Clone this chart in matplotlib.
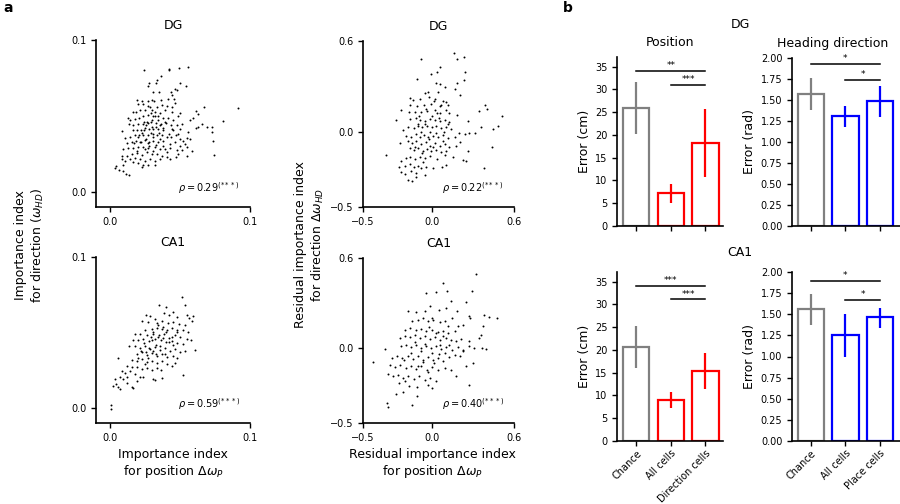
import numpy as np
import matplotlib
matplotlib.use('Agg')
import matplotlib.pyplot as plt

plt.rcParams['font.family'] = 'DejaVu Sans'
plt.rcParams['mathtext.fontset'] = 'dejavusans'

# importance index per cell (position, direction), units of 1e-3
dg_importance = [
    (24.5, 80), (42, 81), (42.4, 80), (49.5, 81.5), (56, 82), (36.4, 76), (33.3, 73.5), (33, 71.7), (28, 71.7), (27, 70),
    (50, 72), (54, 69.5), (46.4, 68), (47.6, 67), (31, 66), (35, 65.8), (43.6, 65.6), (44, 64), (41.2, 61.4), (45.7, 61),
    (46.4, 58.5), (36.4, 60.5), (19, 60.5), (22.6, 60), (27, 60), (29.8, 60.7), (31.7, 59.6), (20.2, 57.6), (23.8, 57.6), (27.4, 56.7),
    (28.8, 55.8), (33.3, 55.8), (37, 57), (40.5, 56.3), (44.5, 55.8), (39.3, 53.6), (16.2, 52.8), (18.6, 52.5), (21.4, 53.6), (25, 53.6),
    (29.8, 53.6), (32, 52.5), (35.7, 51.9), (44, 52.5), (48.8, 49.7), (50, 51.9), (61.4, 53), (62.6, 51), (67.4, 55.6), (91.2, 55),
    (57, 47), (59.5, 48.8), (81, 46.6), (13, 48.8), (14.3, 47), (18, 48), (21, 48.8), (23.8, 49.7), (27.4, 50.3), (31, 49.9),
    (34.5, 49.7), (38, 48.8), (41.7, 48.8), (45.2, 47.5), (13.8, 44.8), (16.7, 43.7), (20.2, 44.8), (23.3, 44.4), (26.2, 46), (29.3, 46),
    (32.9, 45.3), (36.4, 44.8), (39.3, 46), (43.3, 44.2), (47.6, 43.7), (51.2, 44.4), (61.4, 42.2), (63, 42.6), (65.5, 44.8), (69.5, 42.6),
    (72.6, 43), (8.8, 40), (16.7, 40.8), (19, 40.4), (21.9, 40.8), (24.5, 40.4), (28, 41.5), (31, 41.5), (34.5, 41.5), (38, 40.8),
    (44, 41.3), (50, 41.5), (56, 39.7), (10.7, 35.5), (14.3, 36.4), (17.9, 37.1), (21, 37.7), (23.8, 37.1), (27, 37.7), (30.5, 38.2),
    (33.3, 37.1), (37, 37.7), (40.5, 36.4), (43.6, 36), (47.1, 37.1), (50, 34.9), (52.4, 33.8), (54.8, 35.5), (57.1, 34.9), (73.8, 33.8),
    (72.6, 39.3), (11.9, 32), (15.5, 32.7), (18.6, 33.8), (21.4, 32.7), (25, 34.2), (28, 32.7), (31, 33.8), (34.5, 32.7), (37.6, 33.8),
    (42.9, 31.6), (46.4, 32.7), (50, 30.5), (54.8, 29.4), (58.3, 27.2), (9.5, 28.3), (13, 29), (16.7, 29), (20.2, 29.4), (23.8, 29.8),
    (27.4, 29), (32.1, 29.4), (35.7, 28.3), (39.3, 28.3), (42.9, 29), (47.6, 27.8), (51.2, 27.6), (54.8, 23.8), (74.3, 24.5), (8.3, 23.8),
    (11.9, 23.8), (15.5, 24.9), (19, 25.4), (22.6, 24.5), (26.2, 26), (29.8, 24.9), (33.3, 24.9), (36.9, 23.8), (40.5, 22.7), (42.9, 21.6),
    (8.3, 21.6), (10.7, 20.5), (14.3, 21.6), (17.9, 22.3), (21.4, 21.6), (25, 20.5), (28.6, 21.6), (32.1, 20.1), (9.5, 17.9), (16.7, 19.4),
    (20.2, 19), (23.8, 17.9), (27.4, 17.7), (32.1, 17.9), (4.3, 17.2), (3.6, 15.7), (6.4, 14.3), (9.5, 13.9), (11.2, 11.7), (13.6, 11),
    (22.6, 16.6), (35.7, 21.6), (47.1, 22.7), (48.8, 24.9), (40.5, 26), (53.6, 31.6), (45.2, 40.4), (48.8, 38.2),
    (27, 45), (30, 47), (33, 43), (25, 42), (29, 39), (35, 39), (31, 36), (26, 35), (22, 33), (33, 31),
    (28, 30), (36, 44), (24, 46), (38, 42), (32, 50), (29, 52), (26, 44), (34, 47), (23, 39), (30, 43),
    (20, 36), (36, 35), (40, 45), (42, 38), (27, 32), (25, 28), (31, 27), (38, 30), (19, 27), (17, 32),
]

ca1_importance = [
    (51.2, 73.6), (53.6, 68.4), (35.2, 68), (40, 66.9), (44.8, 63.6), (38.6, 62.9), (25.7, 61.3), (28.6, 60.7), (32.1, 59.1), (42.1, 61.3),
    (47.6, 60.2), (54.8, 61.3), (56.7, 59.6), (59, 60.7), (58.3, 57.6), (22.6, 57.3), (27.4, 56.9), (33.3, 56.2), (36.9, 57.6), (41.7, 56.2),
    (45.2, 56.9), (49.5, 55.8), (53.6, 54.7), (33.3, 53.1), (37.6, 53.6), (40.9, 51.8), (44, 53.1), (47.6, 51.3), (52.4, 51.8), (56, 50.2),
    (29.8, 52.4), (25, 51.3), (17.9, 49.1), (21.4, 48.7), (26.2, 48), (30.5, 49.1), (34.5, 47.3), (38.6, 48.7), (42.4, 46.4), (46.4, 48),
    (50, 47.3), (54.8, 45.8), (57.9, 45.1), (16.2, 45.1), (20.2, 44.7), (23.8, 45.8), (28.1, 44.2), (32.1, 45.8), (36.2, 44.7), (40, 43.6),
    (44, 44.2), (48.1, 42.9), (52.4, 42.4), (60.7, 38.4), (13.8, 40.7), (17.9, 41.3), (21.4, 39.8), (25, 40.7), (28.6, 39.1), (32.1, 40.2),
    (35.7, 38.4), (39.3, 39.8), (42.9, 38), (46.4, 39.1), (50, 36.9), (53.6, 37.6), (19, 35.8), (22.6, 36.9), (26.2, 35.3), (29.8, 36.2),
    (33.3, 34.7), (36.9, 35.8), (41, 34), (44.8, 34.7), (48.1, 33.1), (6, 32.9), (15.5, 31.8), (19, 30.9), (22.6, 32.4), (26.2, 30.2),
    (29.8, 31.3), (33.3, 29.6), (36.9, 30.9), (40.5, 29.1), (44, 28), (46.4, 29.6), (11.9, 28), (15.5, 26.9), (19, 27.3), (22.6, 25.8),
    (26.2, 26.4), (29.8, 25.1), (33.3, 26.4), (36.2, 25.1), (8.3, 24.7), (10.7, 22.9), (14.3, 24.2), (17.9, 22.4), (21.4, 20.7), (23.8, 20.2),
    (31, 19.1), (32.1, 18.4), (36.9, 19.8), (52.4, 22), (3.6, 19.1), (7.1, 20.2), (9.5, 19.1), (11.9, 20.2), (4.3, 15.8), (1.9, 14.7),
    (6, 14), (7.1, 12.4), (11.9, 16.2), (15.5, 14), (16.2, 13.1), (19, 17.6), (0.7, 1.8), (0.7, -0.9),
    (30, 45), (33, 42), (35, 48), (28, 40), (38, 46), (31, 38), (36, 41), (26, 37), (40, 50), (42, 44),
    (24, 43), (33, 36), (29, 47), (37, 52), (44, 47), (27, 33), (22, 38), (39, 36), (45, 42), (34, 55),
    (31, 50), (48, 50), (20, 33), (25, 29),
]

# residual importance index (position, direction), units of 1e-2
dg_residual = [
    (16.2, 51.8), (18.8, 47.8), (23.9, 49.1), (-7.5, 47.8), (5.8, 42.9), (3.9, 39.6), (-0.7, 38.4), (24.4, 39.6), (-10.6, 34.7), (2.9, 32.4),
    (5.8, 31.8), (18.4, 32.4), (23.4, 34), (16.7, 28.4), (9.9, 29.6), (-2.4, 26.2), (-5.1, 25.8), (4.6, 26.2), (20.8, 24.4), (-15.5, 22.2),
    (-13.5, 20.7), (-8.7, 21.8), (-1.9, 22.9), (2.2, 21.8), (8.2, 20), (10.6, 19.6), (11.8, 17.3), (6.5, 17.3), (-0.2, 18), (-5.6, 17.3),
    (-10.6, 16.7), (-15.5, 17.3), (38.9, 17.6), (40.3, 15.1), (34.8, 13.3), (51, 10.4), (-22.5, 14.4), (-25.6, 7.8), (-16.4, 12.9), (-12.3, 12.9),
    (-7.5, 12.9), (-3.4, 13.6), (2.2, 14.4), (5.8, 12.2), (10.1, 14), (13, 12.2), (18.4, 10.7), (-15.9, 8.4), (-11.6, 9.1), (-8.7, 7.8),
    (-5.1, 7.3), (-1.4, 8.4), (2.2, 7.8), (5.8, 6.9), (9.4, 7.8), (13, 6.2), (26.3, 7.3), (-20.5, 1.1), (-17.1, 2.9), (-13, 2.4),
    (-9.9, 4), (-6.8, 2.9), (-3.4, 4), (0.5, 2.9), (3.4, 4), (7, 2.4), (10.6, 3.3), (14.3, 1.8), (19.8, -1.1), (24.6, -1.6),
    (27.5, -1.1), (31.9, -1.1), (36, 3.3), (44.4, 1.8), (48.1, 4), (-23.2, -7.8), (-18.4, -2.7), (-14.7, -3.8), (-11.6, -1.6), (-8.7, -3.3),
    (-5.8, -2), (-2.7, -3.8), (1, -2.7), (4.6, -3.8), (8.2, -2), (11.8, -4.2), (16.7, -3.3), (-17.1, -6.4), (-14, -7.8), (-11.1, -6.4),
    (-7.5, -8.2), (-4.3, -7.1), (-1.4, -9.3), (2.2, -7.8), (5.8, -9.3), (9.4, -8.2), (13, -10), (17.4, -9.3), (20.8, -7.1), (43.9, -10),
    (-32.9, -15.3), (-15.9, -10.9), (-13, -12.2), (-9.9, -10.9), (-6.3, -12.7), (-3.4, -11.6), (-0.2, -13.1), (3.4, -12.2), (7, -13.8), (10.6, -12.7),
    (15.5, -16.7), (26.3, -13.1), (-22, -19.3), (-18.4, -17.6), (-15.5, -16.7), (-12.3, -18.2), (-8.7, -16.7), (-5.1, -17.6), (-1.4, -16), (3.9, -18.2),
    (9.4, -15.3), (23.2, -18.9), (25.1, -19.8), (-23.7, -23.8), (-19.6, -22.7), (-15.9, -21.6), (-13, -23.8), (-9.9, -22.7), (-7.5, -24.2), (-3.9, -23.8),
    (1, -24.4), (7.7, -23.8), (10.1, -22.2), (38.4, -24.2), (-22, -27.1), (-19.6, -28.2), (-14.7, -26), (-11.6, -27.8), (-5.1, -28.7), (-17.1, -32.2),
    (-14, -33.1), (-11.1, -30.4),
    (-5, 5), (0, 10), (3, -1), (-8, 0), (-2, -5), (5, 9), (-10, 5), (8, -6), (-4, 15), (1, -10),
    (-12, -10), (6, 17), (-7, -14), (12, 5), (-1, 0), (4, 12), (-9, 10), (9, 0), (2, 20), (-6, -20),
]

ca1_residual = [
    (32.4, 49.6), (8.2, 43.3), (29.2, 37.8), (-3.9, 36.7), (3.4, 37.1), (11.1, 37.8), (14.3, 31.1), (25.1, 30.7), (-17.1, 24.9), (-11.6, 23.8),
    (-5.1, 24.4), (-1.4, 27.8), (5.1, 25.6), (10.6, 26.7), (18.4, 24.4), (38.4, 21.8), (41.5, 20.4), (47.3, 20), (27.5, 21.1), (28, 20),
    (-14, 17.8), (-9.9, 18.9), (-6.3, 20), (-2.7, 17.8), (1, 18.9), (5.8, 17.1), (9.4, 18.2), (15, 20), (19.1, 14.4), (23.2, 15.6),
    (37.2, 14.4), (36, 8.9), (-19.6, 12.2), (-15.5, 13.3), (-11.6, 11.8), (-7.5, 12.7), (-3.9, 11.1), (0.5, 12.2), (4.6, 10.4), (8.2, 11.6),
    (11.8, 10), (16.7, 11.1), (-23.2, 6.7), (-19.6, 8.2), (-15.9, 7.3), (-12.3, 8.9), (-8.7, 6.7), (-5.1, 7.8), (-1.4, 6), (2.2, 7.3),
    (5.8, 5.6), (10.1, 6.7), (14.3, 5.1), (21.5, 6), (27.5, 4.4), (34.3, 6.7), (-34.1, -0.7), (-22, 1.1), (-18.4, 2.2), (-14.7, 0.7),
    (-11.1, 2.2), (-7.5, 0), (-3.9, 1.6), (-0.2, -0.2), (3.4, 1.1), (7, -0.7), (10.6, 0.7), (15, -1.1), (19.1, 0.7), (22.7, -1.1),
    (27.5, 1.1), (31.2, 0), (36.7, 0), (39.6, -0.7), (-29.2, -6.7), (-25.1, -5.1), (-21.3, -6.7), (-17.1, -5.1), (-13.5, -7.3), (-9.9, -5.6),
    (-6.3, -7.8), (-2.7, -6), (1, -8.2), (4.6, -6.7), (8.2, -8.9), (13, -6), (16.7, -4.4), (20.3, -5.1), (22.7, -2.2), (30, -10),
    (-42.5, -9.6), (-30.4, -11.1), (-26.8, -12.7), (-23.2, -11.1), (-18.8, -13.3), (-14.7, -11.8), (-11.1, -14), (-7.5, -12.2), (-3.4, -14.4), (0.5, -12.7),
    (4.6, -14.9), (9.4, -13.3), (14.3, -14.9), (25.1, -11.8), (-31.6, -17.1), (-28, -18.9), (-24.4, -17.8), (-20.8, -20), (-17.1, -18.4), (-13, -20.7),
    (-9.2, -18.9), (-5.1, -21.1), (-1, -20), (3.4, -22.2), (17.9, -18.9), (-23.7, -23.3), (-19.6, -22.2), (-16.4, -25.1), (-10.6, -26), (-2.7, -24.4),
    (0.5, -26.7), (27.5, -24.4), (-26.3, -30.7), (-20.8, -29.6), (-10.4, -31.8), (-32.4, -36.7), (-32.1, -39.3), (-14, -37.8),
    (-5, 3), (0, -3), (3, 10), (-8, -2), (6, 2), (-2, 14), (10, -3), (-12, 4), (2, -10), (8, 8),
    (-6, -9), (13, 2), (-3, -16), (5, -4), (-10, -12), (0, 20), (-15, -3), (12, 15), (18, 5), (-20, -8),
]

rho_values = {'dg_imp': '0.29', 'dg_res': '0.22', 'ca1_imp': '0.59', 'ca1_res': '0.40'}

# decoding errors
pos_labels = ['Chance', 'All cells', 'Direction cells']
hd_labels = ['Chance', 'All cells', 'Place cells']

dg_pos_mean = [25.9, 7.2, 18.3]
dg_pos_low = [20.2, 5.0, 10.8]
dg_pos_high = [31.6, 9.2, 25.6]
dg_hd_mean = [1.57, 1.31, 1.485]
dg_hd_low = [1.38, 1.18, 1.30]
dg_hd_high = [1.76, 1.43, 1.66]

ca1_pos_mean = [20.7, 8.95, 15.3]
ca1_pos_low = [15.9, 7.1, 11.4]
ca1_pos_high = [25.3, 10.65, 19.2]
ca1_hd_mean = [1.56, 1.255, 1.465]
ca1_hd_low = [1.37, 1.0, 1.34]
ca1_hd_high = [1.74, 1.50, 1.58]

# significance brackets: (from bar, to bar, height, stars)
dg_pos_sig = [(0, 2, 34.1, '**'), (1, 2, 31.0, '***')]
dg_hd_sig = [(0, 2, 1.93, '*'), (1, 2, 1.735, '*')]
ca1_pos_sig = [(0, 2, 34.1, '***'), (1, 2, 31.1, '***')]
ca1_hd_sig = [(0, 2, 1.90, '*'), (1, 2, 1.675, '*')]

W, H = 900, 504
LABEL_SIZE = 9


def add_axes_px(fig, left, top, right, bottom):
    return fig.add_axes([left / W, 1 - bottom / H, (right - left) / W, (bottom - top) / H])


def clean_axis(ax):
    ax.spines['top'].set_visible(False)
    ax.spines['right'].set_visible(False)
    for s in ['left', 'bottom']:
        ax.spines[s].set_linewidth(1.2)
    ax.tick_params(direction='out', length=3.5, width=1, labelsize=7)


def scatter_panel(ax, pts, scale, lim, ticks, ticklabels, rho, title=None):
    x, y = np.array(pts, dtype=float).T * scale
    ax.scatter(x, y, s=2, c='black', lw=0)
    ax.set_xlim(lim)
    ax.set_ylim(lim)
    ax.set_xticks(ticks)
    ax.set_xticklabels(ticklabels)
    ax.set_yticks(ticks)
    ax.set_yticklabels(ticklabels)
    clean_axis(ax)
    ax.text(0.935, 0.115, r'$\rho = %s^{(***)}$' % rho, transform=ax.transAxes,
            ha='right', va='center', fontsize=7)
    if title:
        ax.set_title(title, fontsize=LABEL_SIZE, pad=8)


def bar_panel(ax, means, low, high, color, labels, sig, ylim, yticks, fmt, ylabel,
              xlim, title=None, title_x=0.5, show_labels=False):
    xs = np.arange(len(means))
    colors = ['grey', color, color]
    ax.bar(xs, means, width=0.76, facecolor='none', edgecolor=colors, linewidth=1.6)
    ax.vlines(xs, low, high, colors=colors, linewidth=1.6)
    for i0, i1, h, stars in sig:
        ax.plot([i0, i1], [h, h], color='black', lw=1.1, clip_on=False)
        ax.annotate(stars, xy=((i0 + i1) / 2, h), xytext=(0, 0.5), textcoords='offset points',
                    ha='center', va='bottom', fontsize=6.5, annotation_clip=False)
    ax.set_xlim(xlim)
    ax.set_ylim(ylim)
    ax.set_yticks(yticks)
    ax.set_yticklabels([fmt % v for v in yticks])
    ax.set_xticks(xs)
    if show_labels:
        ax.set_xticklabels(labels, rotation=45, ha='right', rotation_mode='anchor', fontsize=6.3)
        ax.tick_params(axis='x', pad=2)
    else:
        ax.set_xticklabels([])
    ax.set_ylabel(ylabel, fontsize=LABEL_SIZE, labelpad=3)
    clean_axis(ax)
    if title:
        ax.set_title(title, fontsize=LABEL_SIZE, pad=8, x=title_x)


fig = plt.figure(figsize=(9, 5.04), dpi=100)

imp_lim = (-0.01, 0.1)
imp_ticks = [0.0, 0.1]
res_lim = (-0.5, 0.6)
res_ticks = [-0.5, 0.0, 0.6]

ax = add_axes_px(fig, 96, 40, 250, 207)
scatter_panel(ax, dg_importance, 1e-3, imp_lim, imp_ticks, ['0.0', '0.1'], rho_values['dg_imp'], 'DG')
ax = add_axes_px(fig, 363, 41, 514, 207)
scatter_panel(ax, dg_residual, 1e-2, res_lim, res_ticks, ['\u22120.5', '0.0', '0.6'], rho_values['dg_res'], 'DG')
ax = add_axes_px(fig, 96, 257, 250, 423)
scatter_panel(ax, ca1_importance, 1e-3, imp_lim, imp_ticks, ['0.0', '0.1'], rho_values['ca1_imp'], 'CA1')
ax = add_axes_px(fig, 363, 258, 514, 423)
scatter_panel(ax, ca1_residual, 1e-2, res_lim, res_ticks, ['\u22120.5', '0.0', '0.6'], rho_values['ca1_res'], 'CA1')

fig.text(30 / W, 1 - 245 / H, 'Importance index\nfor direction ($\\omega_{HD}$)', rotation=90,
         ha='center', va='center', fontsize=LABEL_SIZE, multialignment='center')
fig.text(310 / W, 1 - 245 / H, 'Residual importance index\nfor direction $\\Delta\\omega_{HD}$', rotation=90,
         ha='center', va='center', fontsize=LABEL_SIZE, multialignment='center')
fig.text(173 / W, 1 - 464 / H, 'Importance index\nfor position $\\Delta\\omega_P$',
         ha='center', va='center', fontsize=LABEL_SIZE, multialignment='center')
fig.text(432 / W, 1 - 464 / H, 'Residual importance index\nfor position $\\Delta\\omega_P$',
         ha='center', va='center', fontsize=LABEL_SIZE, multialignment='center')

pos_ticks = [0, 5, 10, 15, 20, 25, 30, 35]
hd_ticks = [0, 0.25, 0.5, 0.75, 1.0, 1.25, 1.5, 1.75, 2.0]

ax = add_axes_px(fig, 617, 56.7, 723, 226)
bar_panel(ax, dg_pos_mean, dg_pos_low, dg_pos_high, 'red', pos_labels, dg_pos_sig,
          (0, 37.2), pos_ticks, '%d', 'Error (cm)', (-0.56, 2.51), title='Position')
ax = add_axes_px(fig, 792, 57.7, 900, 226)
bar_panel(ax, dg_hd_mean, dg_hd_low, dg_hd_high, 'blue', hd_labels, dg_hd_sig,
          (0, 2.0), hd_ticks, '%.2f', 'Error (rad)', (-0.55, 2.58), title='Heading direction',
          title_x=0.38)
ax = add_axes_px(fig, 617, 271.7, 723, 440.7)
bar_panel(ax, ca1_pos_mean, ca1_pos_low, ca1_pos_high, 'red', pos_labels, ca1_pos_sig,
          (0, 37.2), pos_ticks, '%d', 'Error (cm)', (-0.56, 2.51), show_labels=True)
ax = add_axes_px(fig, 792, 272.3, 900, 440.7)
bar_panel(ax, ca1_hd_mean, ca1_hd_low, ca1_hd_high, 'blue', hd_labels, ca1_hd_sig,
          (0, 2.0), hd_ticks, '%.2f', 'Error (rad)', (-0.55, 2.58), show_labels=True)

fig.text(740 / W, 1 - 25 / H, 'DG', ha='center', va='center', fontsize=LABEL_SIZE)
fig.text(740 / W, 1 - 253 / H, 'CA1', ha='center', va='center', fontsize=LABEL_SIZE)

fig.text(3 / W, 1 - 8 / H, 'a', ha='left', va='center', fontsize=10, fontweight='bold')
fig.text(563 / W, 1 - 8 / H, 'b', ha='left', va='center', fontsize=10, fontweight='bold')

fig.savefig('out.png', dpi=100)
